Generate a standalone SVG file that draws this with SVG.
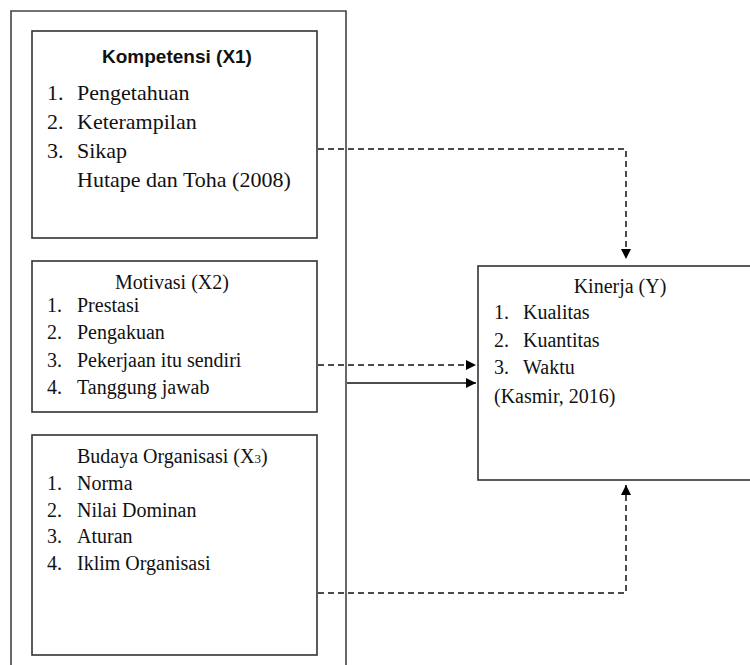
<svg xmlns="http://www.w3.org/2000/svg" width="750" height="665" viewBox="0 0 750 665">
<defs>
<marker id="ah" viewBox="0 0 10 10" refX="10" refY="5" markerWidth="10" markerHeight="10" markerUnits="userSpaceOnUse" orient="auto">
<path d="M0,0 L10,5 L0,10 Z" fill="#000"/>
</marker>
</defs>
<style>
.box{fill:#fff;stroke:#333;stroke-width:1.6}
.frame{fill:none;stroke:#444;stroke-width:1.6}
.dash{fill:none;stroke:#111;stroke-width:1.5;stroke-dasharray:6,4}
.solid{fill:none;stroke:#111;stroke-width:1.6}
text{fill:#111}
.h{font-family:"Liberation Sans",Arial,sans-serif;font-weight:bold;font-size:19px}
.s{font-family:"Liberation Serif","Times New Roman",serif}
</style>
<rect width="750" height="665" fill="#fff"/>
<g id="frame">
<path class="frame" d="M11,670 L11,11 L346,11 L346,670"/>
</g>
<g id="x1">
<rect class="box" x="32" y="31" width="285" height="207"/>
<text class="h" x="177" y="63" text-anchor="middle">Kompetensi (X1)</text>
<g class="s" font-size="22">
<text x="47" y="100">1.</text><text x="77" y="100">Pengetahuan</text>
<text x="47" y="129">2.</text><text x="77" y="129">Keterampilan</text>
<text x="47" y="158">3.</text><text x="77" y="158">Sikap</text>
<text x="77" y="187">Hutape dan Toha (2008)</text>
</g>
</g>
<g id="x2">
<rect class="box" x="32" y="261" width="285" height="151"/>
<g class="s" font-size="20">
<text x="172" y="289" text-anchor="middle">Motivasi (X2)</text>
<text x="47" y="312">1.</text><text x="77" y="312">Prestasi</text>
<text x="47" y="339">2.</text><text x="77" y="339">Pengakuan</text>
<text x="47" y="367">3.</text><text x="77" y="367">Pekerjaan itu sendiri</text>
<text x="47" y="394">4.</text><text x="77" y="394">Tanggung jawab</text>
</g>
</g>
<g id="x3">
<rect class="box" x="32" y="435" width="285" height="220"/>
<g class="s" font-size="20">
<text x="77" y="463">Budaya Organisasi (X<tspan font-size="13">3</tspan>)</text>
<text x="47" y="490">1.</text><text x="77" y="490">Norma</text>
<text x="47" y="517">2.</text><text x="77" y="517">Nilai Dominan</text>
<text x="47" y="543">3.</text><text x="77" y="543">Aturan</text>
<text x="47" y="570">4.</text><text x="77" y="570">Iklim Organisasi</text>
</g>
</g>
<g id="y">
<rect class="box" x="478" y="266" width="290" height="214"/>
<g class="s" font-size="20">
<text x="620" y="293" text-anchor="middle">Kinerja (Y)</text>
<text x="494" y="319">1.</text><text x="523" y="319">Kualitas</text>
<text x="494" y="347">2.</text><text x="523" y="347">Kuantitas</text>
<text x="494" y="374">3.</text><text x="523" y="374">Waktu</text>
<text x="494" y="403">(Kasmir, 2016)</text>
</g>
</g>
<g id="connectors">
<path class="dash" d="M318,149 L626,149 L626,259" marker-end="url(#ah)"/>
<path class="dash" d="M318,365 L476,365" marker-end="url(#ah)"/>
<path class="solid" d="M347,383 L476,383" marker-end="url(#ah)"/>
<path class="dash" d="M318,593 L626,593 L626,485" marker-end="url(#ah)"/>
</g>
</svg>
